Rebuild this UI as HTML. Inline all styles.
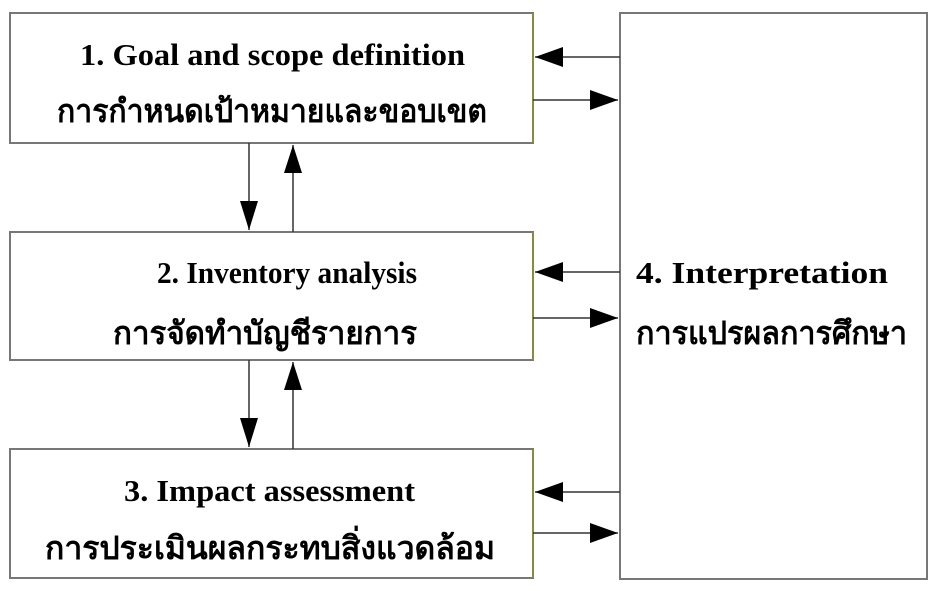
<!DOCTYPE html>
<html><head><meta charset="utf-8"><style>html,body{margin:0;padding:0;background:#fff;}svg{display:block}</style></head>
<body>
<svg width="940" height="591" viewBox="0 0 940 591" xmlns="http://www.w3.org/2000/svg">
<g fill="#fff" stroke="#777" stroke-width="2">
<rect x="10" y="13" width="523" height="130"/>
<rect x="10" y="232" width="523" height="128"/>
<rect x="10" y="449" width="523" height="129"/>
<rect x="620" y="13" width="307" height="566"/>
</g>
<g stroke="#8a8a40" stroke-width="2">
<line x1="533" y1="13" x2="533" y2="143"/><line x1="533" y1="232" x2="533" y2="360"/><line x1="533" y1="449" x2="533" y2="578"/>
</g>
<g stroke="#333" stroke-width="1.5">
<line x1="620" y1="57" x2="535" y2="57"/>
<polygon points="535,57 563,47 563,67" fill="#000" stroke="none"/>
<line x1="533" y1="100" x2="618" y2="100"/>
<polygon points="618,100 590,90 590,110" fill="#000" stroke="none"/>
<line x1="620" y1="272" x2="535" y2="272"/>
<polygon points="535,272 563,262 563,282" fill="#000" stroke="none"/>
<line x1="533" y1="318" x2="618" y2="318"/>
<polygon points="618,318 590,308 590,328" fill="#000" stroke="none"/>
<line x1="620" y1="492" x2="535" y2="492"/>
<polygon points="535,492 563,482 563,502" fill="#000" stroke="none"/>
<line x1="533" y1="533" x2="618" y2="533"/>
<polygon points="618,533 590,523 590,543" fill="#000" stroke="none"/>
<line x1="249" y1="143" x2="249" y2="230"/>
<polygon points="249,230 240,201 258,201" fill="#000" stroke="none"/>
<line x1="293" y1="232" x2="293" y2="145"/>
<polygon points="293,145 284,173 302,173" fill="#000" stroke="none"/>
<line x1="249" y1="360" x2="249" y2="447"/>
<polygon points="249,447 240,418 258,418" fill="#000" stroke="none"/>
<line x1="293" y1="449" x2="293" y2="362"/>
<polygon points="293,362 284,390 302,390" fill="#000" stroke="none"/>
</g>
<g font-family="'Liberation Serif','Noto Serif CJK SC',serif" font-weight="bold" font-size="31" fill="#000">
<text x="80" y="65" textLength="385" lengthAdjust="spacingAndGlyphs">1. Goal and scope definition</text>
<text x="57" y="122" textLength="430" lengthAdjust="spacingAndGlyphs" font-size="32">การกำหนดเป้าหมายและขอบเขต</text>
<text x="157" y="283" textLength="260" lengthAdjust="spacingAndGlyphs">2. Inventory analysis</text>
<text x="113" y="344" textLength="304" lengthAdjust="spacingAndGlyphs" font-size="32">การจัดทำบัญชีรายการ</text>
<text x="124" y="501" textLength="291" lengthAdjust="spacingAndGlyphs">3. Impact assessment</text>
<text x="45" y="559" textLength="450" lengthAdjust="spacingAndGlyphs" font-size="32">การประเมินผลกระทบสิ่งแวดล้อม</text>
<text x="636" y="283" textLength="252" lengthAdjust="spacingAndGlyphs">4. Interpretation</text>
<text x="636" y="344" textLength="271" lengthAdjust="spacingAndGlyphs" font-size="32">การแปรผลการศึกษา</text>
</g>
</svg>
</body></html>
